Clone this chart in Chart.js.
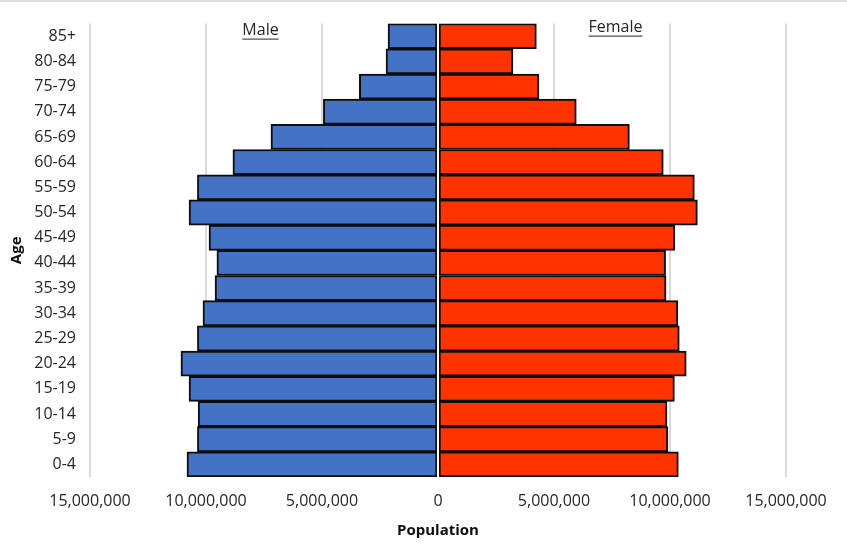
<!DOCTYPE html>
<html>
<head>
<meta charset="utf-8">
<script src="https://cdn.jsdelivr.net/npm/chart.js@4.4.1/dist/chart.umd.min.js"></script>
<style>
  html, body { margin: 0; padding: 0; background: #fff; }
  body { width: 847px; height: 554px; overflow: hidden; position: relative; }
  #topline { position: absolute; left: 0; top: 0; width: 847px; height: 2px; background: #dcdcdc; }
  #wrap { position: absolute; left: 0; top: 0; width: 847px; height: 554px; }
</style>
</head>
<body>
<div id="wrap"><canvas id="c" width="847" height="554"></canvas></div>
<div id="topline"></div>
<script>
const ageGroups = ["0-4","5-9","10-14","15-19","20-24","25-29","30-34","35-39","40-44","45-49","50-54","55-59","60-64","65-69","70-74","75-79","80-84","85+"];
const maleValues = [10820000,10370000,10340000,10730000,11080000,10370000,10130000,9610000,9530000,9870000,10730000,10370000,8840000,7200000,4940000,3390000,2240000,2155000];
const femaleValues = [10360000,9910000,9870000,10190000,10700000,10400000,10340000,9830000,9810000,10210000,11180000,11050000,9710000,8250000,5960000,4350000,3230000,4240000];
const xTickValues = [-15000000,-10000000,-5000000,0,5000000,10000000,15000000];
const seriesNames = ["Male","Female"];

const FONT = "'Open Sans', 'Noto Sans', sans-serif";
const TXT = '#262626';

const overlayPlugin = {
  id: 'overlay',
  afterDatasetsDraw(chart) {
    const ctx = chart.ctx, area = chart.chartArea, xs = chart.scales.x;
    const x0 = xs.getPixelForValue(0);
    ctx.save();
    ctx.strokeStyle = '#ffffff';
    ctx.lineWidth = 2;
    ctx.beginPath();
    ctx.moveTo(x0, area.top);
    ctx.lineTo(x0, area.bottom);
    ctx.stroke();
    ctx.restore();
  },
  afterDraw(chart) {
    const ctx = chart.ctx, area = chart.chartArea, xs = chart.scales.x;
    const labels = [
      { text: seriesNames[0], x: xs.getPixelForValue(-7650000), y: area.top + 7 },
      { text: seriesNames[1], x: xs.getPixelForValue(7650000), y: area.top + 4 }
    ];
    ctx.save();
    ctx.font = '16px ' + FONT;
    ctx.fillStyle = TXT;
    ctx.strokeStyle = TXT;
    ctx.lineWidth = 1;
    ctx.textAlign = 'center';
    ctx.textBaseline = 'middle';
    labels.forEach(l => {
      ctx.fillText(l.text, l.x, l.y);
      const w = ctx.measureText(l.text).width;
      ctx.beginPath();
      ctx.moveTo(l.x - w / 2, l.y + 8.5);
      ctx.lineTo(l.x + w / 2, l.y + 8.5);
      ctx.stroke();
    });
    ctx.restore();
  }
};

new Chart(document.getElementById('c'), {
  type: 'bar',
  data: {
    labels: ageGroups,
    datasets: [
      { label: seriesNames[0], data: maleValues.map(v => -v), backgroundColor: '#4472C4', borderColor: '#0d0d0d', borderWidth: 2, borderSkipped: false, barPercentage: 1, categoryPercentage: 1 },
      { label: seriesNames[1], data: femaleValues, backgroundColor: '#FF3300', borderColor: '#0d0d0d', borderWidth: 2, borderSkipped: false, barPercentage: 1, categoryPercentage: 1 }
    ]
  },
  options: {
    indexAxis: 'y',
    responsive: false,
    animation: false,
    devicePixelRatio: 1,
    layout: { padding: { top: 23, right: 61, left: 0, bottom: 0 } },
    plugins: { legend: { display: false }, tooltip: { enabled: false } },
    scales: {
      x: {
        stacked: true,
        min: -15000000,
        max: 15000000,
        afterBuildTicks(scale) { scale.ticks = xTickValues.map(v => ({ value: v })); },
        afterFit(scale) { scale.height = 77; },
        border: { display: false },
        grid: {
          drawTicks: false,
          color: ctx => (ctx.tick && ctx.tick.value === 0) ? 'rgba(0,0,0,0)' : '#d9d9d9',
          lineWidth: 2
        },
        ticks: {
          padding: 15,
          color: TXT,
          font: { family: FONT, size: 16 },
          callback: v => Math.abs(v).toLocaleString('en-US')
        },
        title: {
          display: true,
          text: 'Population',
          color: '#0d0d0d',
          font: { family: FONT, size: 15, weight: 'bold' },
          padding: { top: 4, bottom: 14 }
        }
      },
      y: {
        stacked: true,
        reverse: true,
        afterFit(scale) { scale.width = 90; },
        border: { display: false },
        grid: { display: false, drawTicks: false },
        ticks: {
          padding: 14,
          color: TXT,
          font: { family: FONT, size: 16 }
        },
        title: {
          display: true,
          text: 'Age',
          color: '#0d0d0d',
          font: { family: FONT, size: 15, weight: 'bold' },
          padding: { top: 8, bottom: 0 }
        }
      }
    }
  },
  plugins: [overlayPlugin]
});
</script>
</body>
</html>
